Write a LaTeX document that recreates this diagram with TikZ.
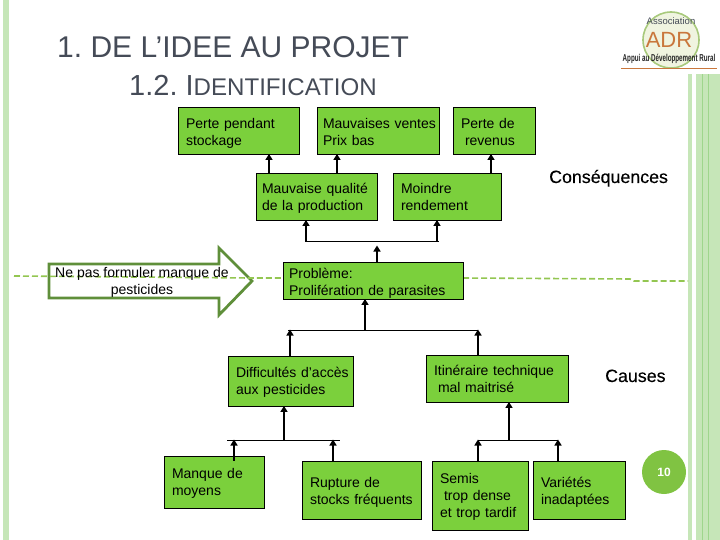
\documentclass[tikz,border=0pt]{standalone}
\usepackage{fontspec}
\setmainfont{Liberation Sans}
\newfontfamily\semib[FakeBold=0.25]{Liberation Sans}
\usetikzlibrary{arrows.meta}
\definecolor{boxgreen}{HTML}{7BD03C}
\definecolor{bandgreen}{HTML}{C6E6B8}
\definecolor{bandline}{HTML}{9FD68C}
\definecolor{arrowgreen}{HTML}{5F8F3A}
\definecolor{dashgreen}{HTML}{93C651}
\definecolor{titlegrey}{HTML}{454B57}
\definecolor{badge}{HTML}{80C342}
\definecolor{logoorange}{HTML}{C9773C}
\definecolor{logogreen}{HTML}{A8C97C}
\definecolor{logofill}{HTML}{F0F4E0}
\newcommand\lin[2][8pt]{\hspace*{#1}\rlap{#2}}
\newcommand\fl[3][2]{\rule{0pt}{\dimexpr10.2pt+#1pt*2\relax}\hspace*{#2}\rlap{#3}}
\tikzset{
  x=1pt,y=-1pt,
  bx/.style={draw=black,line width=0.9pt,fill=boxgreen,inner sep=0pt,align=left,
    font=\fontsize{14}{17}\selectfont},
  up/.style={line width=1.7pt,-{Triangle[length=6pt,width=7pt]},shorten >=-0.5pt},
  bus/.style={line width=0.9pt},
  dashline/.style={dashgreen,line width=1.6pt,dash pattern=on 6pt off 3pt},
  plain/.style={inner sep=0pt},
}
\begin{document}
\frenchspacing
\begin{tikzpicture}
\useasboundingbox (0,0) rectangle (720,540);
% slide decoration
\fill[bandgreen] (3,0) rectangle (9,540);
\fill[bandgreen] (688,74) rectangle (692,540);
\fill[bandgreen] (696,74) rectangle (720,540);
\fill[bandline] (702,74) rectangle (703,540);
\fill[bandline] (708,74) rectangle (709,540);
% dashed rule
\draw[dashline] (463,278) -- (630,279) -- (634,281) -- (688,281);
% logo
\fill[logofill] (671,40) circle (28);
\draw[logogreen,line width=1.6pt] (671,40) circle (28);
\node[plain,text=titlegrey,font=\fontsize{9.5}{10}\selectfont] (assoc) at (671,21) {Association};
\node[plain,text=logoorange,font=\fontsize{22}{24}\selectfont] (adr) at (669,40) {ADR};
\node[plain,text=black!85,font=\fontsize{8}{9}\bfseries\selectfont] (appui) at (669,58.5) {\scalebox{.78}[1.25]{Appui au Développement Rural}};
\draw[logoorange,line width=1pt] (621,69) -- (717,69);
% title
\node[plain,anchor=base west,text=titlegrey,font=\fontsize{30}{32}\selectfont] (t1) at (57,58) {1. DE L’IDEE AU PROJET};
\node[plain,anchor=base west,text=titlegrey,font=\fontsize{29}{32}\selectfont] (t2) at (129,96) {1.2. I{\fontsize{24.1}{32}\selectfont DENTIFICATION}};
% hollow arrow
\draw[arrowgreen,line width=2.8pt,fill=white,miter limit=10] (49,264) -- (219,264) -- (219,248) -- (252,281) -- (219,315) -- (219,298) -- (49,298) -- cycle;
\draw[dashline] (14,276) -- (250,278) -- (283,278);
\node[plain,align=center,font=\fontsize{14}{17}\selectfont] (hint) at (142,282) {Ne pas formuler manque de\\pesticides};
% boxes
\node[bx,text width=121pt,minimum height=47pt] (pp) at (238.5,130.5) {\fl[3]{8pt}{Perte pendant}\\\lin{stockage}};
\node[bx,text width=122pt,minimum height=47pt] (mv) at (378,130.5) {\fl[1]{6pt}{Mauvaises ventes}\\\lin[6pt]{Prix bas}};
\node[bx,text width=82pt,minimum height=47pt] (pr) at (494,130.5) {\fl[1]{8pt}{Perte de}\\\lin[12pt]{revenus}};
\node[bx,text width=121pt,minimum height=47pt] (mq) at (316.5,196.5) {\fl{6pt}{Mauvaise qualité}\\\lin[6pt]{de la production}};
\node[bx,text width=108pt,minimum height=47pt] (mr) at (447,196.5) {\fl[0.5]{8pt}{Moindre}\\\lin{rendement}};
\node[bx,text width=180pt,minimum height=37pt] (pb) at (373,280.5) {\fl[3]{6pt}{Problème:}\\\lin[6pt]{Prolifération de parasites}};
\node[bx,text width=125pt,minimum height=50pt] (df) at (290.5,381) {\fl[1]{8pt}{Difficultés d’accès}\\\lin{aux pesticides}};
\node[bx,text width=142pt,minimum height=47pt] (it) at (497,378.5) {\fl[0.5]{8pt}{Itinéraire technique}\\\lin[12pt]{mal maitrisé}};
\node[bx,text width=100pt,minimum height=52pt] (mm) at (214,482) {\fl[1]{8pt}{Manque de}\\\lin{moyens}};
\node[bx,text width=119pt,minimum height=58pt] (rs) at (361.5,490) {\fl{8pt}{Rupture de}\\\lin{stocks fréquents}};
\node[bx,text width=96pt,minimum height=69pt] (se) at (480,495.5) {\fl[1]{8pt}{Semis}\\\lin[12pt]{trop dense}\\\lin{et trop tardif}};
\node[bx,text width=92pt,minimum height=58pt] (va) at (579,490) {\fl{8pt}{Variétés}\\\lin{inadaptées}};
% side labels
\node[plain,anchor=base west,font=\fontsize{17.8}{20}\semib] (cons) at (549,183) {Conséquences};
\node[plain,anchor=base west,font=\fontsize{17.8}{20}\semib] (caus) at (605,382) {Causes};
\node[circle,fill=badge,minimum size=44pt,inner sep=0pt,text=white,font=\fontsize{12}{13}\bfseries\selectfont] (pg) at (664,472) {10};
% guide columns and bus ends
\coordinate (a) at (269,0); \coordinate (b) at (337,0); \coordinate (c) at (491,0);
\coordinate (d) at (306,0); \coordinate (e) at (437,0); \coordinate (f) at (377,0);
\coordinate (g) at (365,0); \coordinate (h) at (290,0); \coordinate (i) at (478,0);
\coordinate (j) at (284,0); \coordinate (k) at (234,0); \coordinate (l) at (333,0);
\coordinate (m) at (509,0); \coordinate (n) at (558,0);
\coordinate (busA) at (0,241.5); \coordinate (busB) at (0,330); \coordinate (busC) at (0,440);
% upper arrows
\draw[up] (a |- mq.north) -- (a |- pp.south);
\draw[up] (b |- mq.north) -- (b |- mv.south);
\draw[up] (c |- mr.north) -- (c |- pr.south);
\draw[bus] (d |- busA) -- (439,241.5);
\draw[up] (d |- busA) -- (d |- mq.south);
\draw[up] (e |- busA) -- (e |- mr.south);
\draw[up] (f |- pb.north) -- (377,246);
% lower arrows
\draw[bus] (288,330) -- (i |- busB);
\draw[up] (g |- busB) -- (g |- pb.south);
\draw[up] (h |- df.north) -- (h |- busB);
\draw[up] (i |- it.north) -- (i |- busB);
\draw[bus] (227,440) -- (340,440);
\draw[up] (j |- busC) -- (j |- df.south);
\draw[up] (k |- rs.north) -- (k |- busC);
\draw[up] (l |- rs.north) -- (l |- busC);
\draw[bus] (i |- busC) -- (n |- busC);
\draw[up] (m |- busC) -- (m |- it.south);
\draw[up] (i |- se.north) -- (i |- busC);
\draw[up] (n |- va.north) -- (n |- busC);
\end{tikzpicture}
\end{document}
